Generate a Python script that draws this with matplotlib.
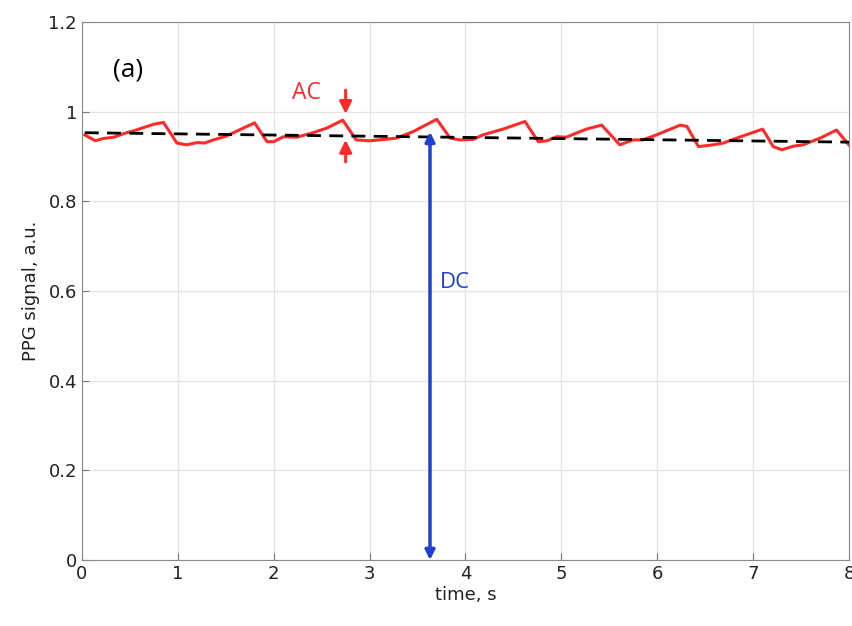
import matplotlib
matplotlib.use("Agg")
import matplotlib.pyplot as plt

# PPG waveform
t = [0.03, 0.14, 0.22, 0.33, 0.45, 0.55, 0.75, 0.85, 0.99, 1.09, 1.20, 1.28, 1.37, 1.50,
     1.60, 1.80, 1.93, 2.00, 2.10, 2.24, 2.41, 2.55, 2.72, 2.86, 3.00, 3.15, 3.28, 3.45,
     3.70, 3.84, 3.94, 4.08, 4.18, 4.39, 4.62, 4.76, 4.85, 4.95, 5.05, 5.26, 5.42, 5.61,
     5.75, 5.85, 5.99, 6.24, 6.31, 6.43, 6.58, 6.69, 6.83, 6.95, 7.10, 7.21, 7.30, 7.42,
     7.52, 7.70, 7.87, 8.03]
ppg = [0.948, 0.935, 0.940, 0.943, 0.952, 0.958, 0.972, 0.976, 0.930, 0.926, 0.931, 0.930,
       0.937, 0.945, 0.955, 0.975, 0.933, 0.933, 0.944, 0.943, 0.953, 0.963, 0.981, 0.937,
       0.935, 0.938, 0.941, 0.955, 0.983, 0.941, 0.937, 0.938, 0.948, 0.961, 0.978, 0.933,
       0.935, 0.944, 0.943, 0.961, 0.970, 0.926, 0.937, 0.937, 0.948, 0.970, 0.967, 0.922,
       0.926, 0.930, 0.941, 0.950, 0.961, 0.922, 0.915, 0.923, 0.926, 0.941, 0.959, 0.918]
dc_t = [0.03, 8.0]
dc_v = [0.953, 0.932]

red = '#ff2a2a'
blue = '#1f3fd0'

fig = plt.figure(figsize=(8.53, 6.26), dpi=100)
ax = fig.add_axes([0.0961, 0.1054, 0.8992, 0.8595])

ax.plot(t, ppg, color=red, lw=2.2)
ax.plot(dc_t, dc_v, color='black', lw=2.0, ls=(0, (5, 3)))

# AC arrows
ax.annotate('', xy=(2.75, 0.995), xytext=(2.75, 1.048),
            arrowprops=dict(arrowstyle='-|>', color=red, lw=2.2, mutation_scale=18,
                            shrinkA=0, shrinkB=0))
ax.annotate('', xy=(2.75, 0.937), xytext=(2.75, 0.888),
            arrowprops=dict(arrowstyle='-|>', color=red, lw=2.2, mutation_scale=18,
                            shrinkA=0, shrinkB=0))
ax.text(2.34, 1.041, 'AC', color=red, fontsize=16.5, ha='center', va='center',
        family='Open Sans')

# DC arrow
ax.annotate('', xy=(3.63, 0.955), xytext=(3.63, 0.0),
            arrowprops=dict(arrowstyle='<|-|>', color=blue, lw=2.5, mutation_scale=14,
                            shrinkA=0, shrinkB=0))
ax.text(3.73, 0.62, 'DC', color=blue, fontsize=16, ha='left', va='center',
        family='Open Sans')

ax.text(0.48, 1.094, '(a)', fontsize=19, ha='center', va='center', family='Open Sans')

ax.set_xlim(0, 8)
ax.set_ylim(0, 1.2)
ax.set_xticks(range(0, 9))
ax.set_yticks([0, 0.2, 0.4, 0.6, 0.8, 1.0, 1.2])
ax.set_yticklabels(['0', '0.2', '0.4', '0.6', '0.8', '1', '1.2'])
ax.grid(True, color='#e4e4e4', lw=0.9)
ax.set_axisbelow(True)
ax.tick_params(direction='in', length=5, labelsize=13, color='#777777', labelcolor='#222222')
for s in ax.spines.values():
    s.set_color('#8a8a8a')
ax.set_xlabel('time, s', fontsize=13, color='#222222', labelpad=2)
ax.set_ylabel('PPG signal, a.u.', fontsize=13, color='#222222', labelpad=6)

fig.savefig('out.png', dpi=100)
